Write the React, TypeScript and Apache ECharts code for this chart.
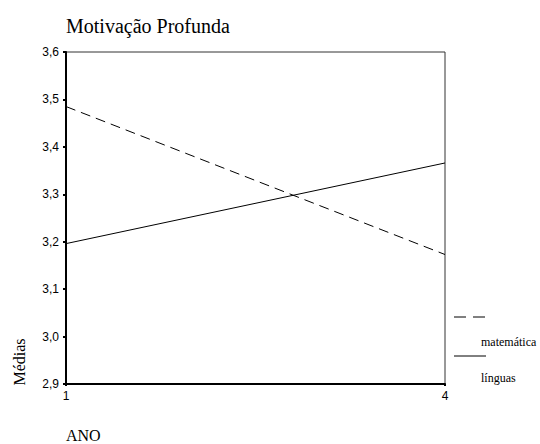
import React, { useEffect, useRef } from "react";
import * as echarts from "echarts";

const categories = ["1", "4"];
const matematica = [3.485, 3.173];
const linguas = [3.196, 3.366];
const yTicks = [2.9, 3.0, 3.1, 3.2, 3.3, 3.4, 3.5, 3.6];
const titleText = "Motivação Profunda";
const yName = "Médias";
const xName = "ANO";
const legendNames = ["matemática", "línguas"];

export default function App() {
  const ref = useRef<HTMLDivElement>(null);
  useEffect(() => {
    if (!ref.current) return;
    const chart = echarts.init(ref.current, undefined, { renderer: "svg" });
    const serif = "Liberation Serif, Times New Roman, serif";
    const sans = "Liberation Sans, Arial, sans-serif";
    chart.setOption({
      animation: false,
      backgroundColor: "#fff",
      grid: {
        left: 66,
        right: 95,
        top: 52,
        bottom: 60,
        show: true,
        borderColor: "#333",
        borderWidth: 1,
      },
      xAxis: {
        type: "category",
        data: categories,
        boundaryGap: false,
        axisLine: { lineStyle: { color: "#000", width: 2 } },
        axisTick: { show: true, length: 2, lineStyle: { color: "#000", width: 2 } },
        axisLabel: { fontFamily: sans, fontSize: 12, color: "#000", margin: 6 },
        splitLine: { show: false },
      },
      yAxis: {
        type: "value",
        min: 2.9,
        max: 3.6,
        interval: 0.1,
        axisLine: { show: true, lineStyle: { color: "#000", width: 2 } },
        axisTick: { show: true, length: 3, lineStyle: { color: "#000", width: 2 } },
        axisLabel: {
          fontFamily: sans,
          fontSize: 12,
          color: "#000",
          margin: 7,
          formatter: (v: number) => {
            const t = yTicks.find((k) => Math.abs(k - v) < 1e-6);
            return (t ?? v).toFixed(1).replace(".", ",");
          },
        },
        splitLine: { show: false },
      },
      series: [
        {
          name: legendNames[0],
          type: "line",
          data: matematica,
          symbol: "none",
          lineStyle: { color: "#000", width: 1, type: [10, 6] },
        },
        {
          name: legendNames[1],
          type: "line",
          data: linguas,
          symbol: "none",
          lineStyle: { color: "#000", width: 1, type: "solid" },
        },
      ],
      graphic: [
        {
          type: "text",
          x: 66,
          y: 26,
          style: {
            text: titleText,
            fontFamily: serif,
            fontSize: 20,
            fill: "#000",
            align: "left",
            verticalAlign: "middle",
          },
        },
        {
          type: "text",
          x: 19,
          y: 362,
          rotation: Math.PI / 2,
          style: {
            text: yName,
            fontFamily: serif,
            fontSize: 16,
            fill: "#000",
            align: "center",
            verticalAlign: "middle",
          },
        },
        {
          type: "text",
          x: 66,
          y: 435,
          style: {
            text: xName,
            fontFamily: serif,
            fontSize: 16,
            fill: "#000",
            align: "left",
            verticalAlign: "middle",
          },
        },
        {
          type: "line",
          shape: { x1: 454, y1: 317, x2: 486, y2: 317 },
          style: { stroke: "#000", lineWidth: 1, lineDash: [12, 7] },
        },
        {
          type: "text",
          x: 481,
          y: 342,
          style: {
            text: legendNames[0],
            fontFamily: serif,
            fontSize: 12,
            fill: "#000",
            align: "left",
            verticalAlign: "middle",
          },
        },
        {
          type: "line",
          shape: { x1: 454, y1: 356, x2: 486, y2: 356 },
          style: { stroke: "#000", lineWidth: 1 },
        },
        {
          type: "text",
          x: 481,
          y: 378,
          style: {
            text: legendNames[1],
            fontFamily: serif,
            fontSize: 12,
            fill: "#000",
            align: "left",
            verticalAlign: "middle",
          },
        },
      ],
    });
    return () => chart.dispose();
  }, []);
  return (
    <div
      ref={ref}
      style={{ position: "fixed", left: 0, top: 0, width: 540, height: 444 }}
    />
  );
}
